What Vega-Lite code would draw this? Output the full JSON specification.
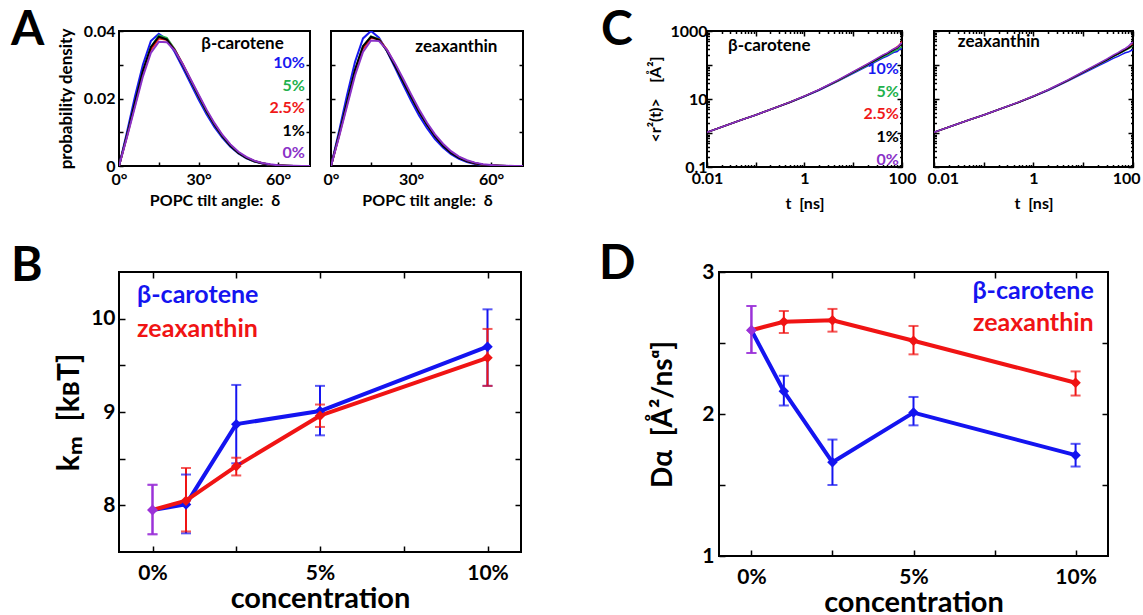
{
"$schema": "https://vega.github.io/schema/vega-lite/v6.json",
"padding": {"left": 10, "top": 6, "right": 0, "bottom": 0},
"datasets": {
"tiltB": [
{"c":"10%","a":0,"d":0},{"c":"10%","a":3,"d":0.0100},{"c":"10%","a":6,"d":0.0205},{"c":"10%","a":9,"d":0.0300},{"c":"10%","a":12,"d":0.0370},{"c":"10%","a":15,"d":0.0392},{"c":"10%","a":18,"d":0.0375},{"c":"10%","a":21,"d":0.0338},{"c":"10%","a":24,"d":0.0292},{"c":"10%","a":27,"d":0.0244},{"c":"10%","a":30,"d":0.0197},{"c":"10%","a":33,"d":0.0153},{"c":"10%","a":36,"d":0.0115},{"c":"10%","a":39,"d":0.0083},{"c":"10%","a":42,"d":0.0057},{"c":"10%","a":45,"d":0.0037},{"c":"10%","a":48,"d":0.0023},{"c":"10%","a":51,"d":0.0013},{"c":"10%","a":54,"d":0.0007},{"c":"10%","a":57,"d":0.0003},{"c":"10%","a":60,"d":0.00015},{"c":"10%","a":63,"d":0.0001},{"c":"10%","a":66,"d":0},{"c":"10%","a":69,"d":0},{"c":"10%","a":72,"d":0},
{"c":"5%","a":0,"d":0},{"c":"5%","a":3,"d":0.0090},{"c":"5%","a":6,"d":0.0185},{"c":"5%","a":9,"d":0.0280},{"c":"5%","a":12,"d":0.0352},{"c":"5%","a":15,"d":0.0387},{"c":"5%","a":18,"d":0.0380},{"c":"5%","a":21,"d":0.0346},{"c":"5%","a":24,"d":0.0301},{"c":"5%","a":27,"d":0.0253},{"c":"5%","a":30,"d":0.0206},{"c":"5%","a":33,"d":0.0161},{"c":"5%","a":36,"d":0.0122},{"c":"5%","a":39,"d":0.0088},{"c":"5%","a":42,"d":0.0060},{"c":"5%","a":45,"d":0.0039},{"c":"5%","a":48,"d":0.0024},{"c":"5%","a":51,"d":0.0014},{"c":"5%","a":54,"d":0.0008},{"c":"5%","a":57,"d":0.0004},{"c":"5%","a":60,"d":0.0002},{"c":"5%","a":63,"d":0.0001},{"c":"5%","a":66,"d":0},{"c":"5%","a":69,"d":0},{"c":"5%","a":72,"d":0},
{"c":"2.5%","a":0,"d":0},{"c":"2.5%","a":3,"d":0.0088},{"c":"2.5%","a":6,"d":0.0180},{"c":"2.5%","a":9,"d":0.0273},{"c":"2.5%","a":12,"d":0.0345},{"c":"2.5%","a":15,"d":0.0378},{"c":"2.5%","a":18,"d":0.0374},{"c":"2.5%","a":21,"d":0.0344},{"c":"2.5%","a":24,"d":0.0302},{"c":"2.5%","a":27,"d":0.0256},{"c":"2.5%","a":30,"d":0.0209},{"c":"2.5%","a":33,"d":0.0164},{"c":"2.5%","a":36,"d":0.0124},{"c":"2.5%","a":39,"d":0.0090},{"c":"2.5%","a":42,"d":0.0062},{"c":"2.5%","a":45,"d":0.0040},{"c":"2.5%","a":48,"d":0.0025},{"c":"2.5%","a":51,"d":0.0015},{"c":"2.5%","a":54,"d":0.0008},{"c":"2.5%","a":57,"d":0.0004},{"c":"2.5%","a":60,"d":0.0002},{"c":"2.5%","a":63,"d":0.0001},{"c":"2.5%","a":66,"d":0},{"c":"2.5%","a":69,"d":0},{"c":"2.5%","a":72,"d":0},
{"c":"1%","a":0,"d":0},{"c":"1%","a":3,"d":0.0092},{"c":"1%","a":6,"d":0.0188},{"c":"1%","a":9,"d":0.0282},{"c":"1%","a":12,"d":0.0352},{"c":"1%","a":15,"d":0.0383},{"c":"1%","a":18,"d":0.0375},{"c":"1%","a":21,"d":0.0343},{"c":"1%","a":24,"d":0.0299},{"c":"1%","a":27,"d":0.0253},{"c":"1%","a":30,"d":0.0207},{"c":"1%","a":33,"d":0.0162},{"c":"1%","a":36,"d":0.0122},{"c":"1%","a":39,"d":0.0088},{"c":"1%","a":42,"d":0.0060},{"c":"1%","a":45,"d":0.0039},{"c":"1%","a":48,"d":0.0024},{"c":"1%","a":51,"d":0.0014},{"c":"1%","a":54,"d":0.0008},{"c":"1%","a":57,"d":0.0004},{"c":"1%","a":60,"d":0.0002},{"c":"1%","a":63,"d":0.0001},{"c":"1%","a":66,"d":0},{"c":"1%","a":69,"d":0},{"c":"1%","a":72,"d":0},
{"c":"0%","a":0,"d":0},{"c":"0%","a":3,"d":0.0085},{"c":"0%","a":6,"d":0.0175},{"c":"0%","a":9,"d":0.0265},{"c":"0%","a":12,"d":0.0335},{"c":"0%","a":15,"d":0.0368},{"c":"0%","a":18,"d":0.0367},{"c":"0%","a":21,"d":0.0342},{"c":"0%","a":24,"d":0.0302},{"c":"0%","a":27,"d":0.0257},{"c":"0%","a":30,"d":0.0212},{"c":"0%","a":33,"d":0.0167},{"c":"0%","a":36,"d":0.0127},{"c":"0%","a":39,"d":0.0092},{"c":"0%","a":42,"d":0.0064},{"c":"0%","a":45,"d":0.0042},{"c":"0%","a":48,"d":0.0027},{"c":"0%","a":51,"d":0.0016},{"c":"0%","a":54,"d":0.0009},{"c":"0%","a":57,"d":0.0005},{"c":"0%","a":60,"d":0.0002},{"c":"0%","a":63,"d":0.0001},{"c":"0%","a":66,"d":0.00005},{"c":"0%","a":69,"d":0},{"c":"0%","a":72,"d":0}
],
"tiltZ": [
{"c":"10%","a":0,"d":0},{"c":"10%","a":3,"d":0.0102},{"c":"10%","a":6,"d":0.0210},{"c":"10%","a":9,"d":0.0308},{"c":"10%","a":12,"d":0.0378},{"c":"10%","a":15,"d":0.0400},{"c":"10%","a":18,"d":0.0380},{"c":"10%","a":21,"d":0.0340},{"c":"10%","a":24,"d":0.0292},{"c":"10%","a":27,"d":0.0242},{"c":"10%","a":30,"d":0.0194},{"c":"10%","a":33,"d":0.0150},{"c":"10%","a":36,"d":0.0112},{"c":"10%","a":39,"d":0.0080},{"c":"10%","a":42,"d":0.0055},{"c":"10%","a":45,"d":0.0035},{"c":"10%","a":48,"d":0.0021},{"c":"10%","a":51,"d":0.0012},{"c":"10%","a":54,"d":0.0006},{"c":"10%","a":57,"d":0.0003},{"c":"10%","a":60,"d":0.00015},{"c":"10%","a":63,"d":0.0001},{"c":"10%","a":66,"d":0},{"c":"10%","a":69,"d":0},{"c":"10%","a":72,"d":0},
{"c":"5%","a":0,"d":0},{"c":"5%","a":3,"d":0.0092},{"c":"5%","a":6,"d":0.0188},{"c":"5%","a":9,"d":0.0283},{"c":"5%","a":12,"d":0.0355},{"c":"5%","a":15,"d":0.0384},{"c":"5%","a":18,"d":0.0376},{"c":"5%","a":21,"d":0.0343},{"c":"5%","a":24,"d":0.0299},{"c":"5%","a":27,"d":0.0252},{"c":"5%","a":30,"d":0.0206},{"c":"5%","a":33,"d":0.0162},{"c":"5%","a":36,"d":0.0123},{"c":"5%","a":39,"d":0.0089},{"c":"5%","a":42,"d":0.0061},{"c":"5%","a":45,"d":0.0040},{"c":"5%","a":48,"d":0.0025},{"c":"5%","a":51,"d":0.0015},{"c":"5%","a":54,"d":0.0008},{"c":"5%","a":57,"d":0.0004},{"c":"5%","a":60,"d":0.0002},{"c":"5%","a":63,"d":0.0001},{"c":"5%","a":66,"d":0},{"c":"5%","a":69,"d":0},{"c":"5%","a":72,"d":0},
{"c":"2.5%","a":0,"d":0},{"c":"2.5%","a":3,"d":0.0089},{"c":"2.5%","a":6,"d":0.0183},{"c":"2.5%","a":9,"d":0.0276},{"c":"2.5%","a":12,"d":0.0348},{"c":"2.5%","a":15,"d":0.0380},{"c":"2.5%","a":18,"d":0.0375},{"c":"2.5%","a":21,"d":0.0344},{"c":"2.5%","a":24,"d":0.0301},{"c":"2.5%","a":27,"d":0.0255},{"c":"2.5%","a":30,"d":0.0209},{"c":"2.5%","a":33,"d":0.0164},{"c":"2.5%","a":36,"d":0.0124},{"c":"2.5%","a":39,"d":0.0090},{"c":"2.5%","a":42,"d":0.0062},{"c":"2.5%","a":45,"d":0.0041},{"c":"2.5%","a":48,"d":0.0026},{"c":"2.5%","a":51,"d":0.0015},{"c":"2.5%","a":54,"d":0.0008},{"c":"2.5%","a":57,"d":0.0004},{"c":"2.5%","a":60,"d":0.0002},{"c":"2.5%","a":63,"d":0.0001},{"c":"2.5%","a":66,"d":0},{"c":"2.5%","a":69,"d":0},{"c":"2.5%","a":72,"d":0},
{"c":"1%","a":0,"d":0},{"c":"1%","a":3,"d":0.0093},{"c":"1%","a":6,"d":0.0190},{"c":"1%","a":9,"d":0.0285},{"c":"1%","a":12,"d":0.0355},{"c":"1%","a":15,"d":0.0383},{"c":"1%","a":18,"d":0.0374},{"c":"1%","a":21,"d":0.0341},{"c":"1%","a":24,"d":0.0297},{"c":"1%","a":27,"d":0.0251},{"c":"1%","a":30,"d":0.0205},{"c":"1%","a":33,"d":0.0161},{"c":"1%","a":36,"d":0.0122},{"c":"1%","a":39,"d":0.0088},{"c":"1%","a":42,"d":0.0060},{"c":"1%","a":45,"d":0.0039},{"c":"1%","a":48,"d":0.0024},{"c":"1%","a":51,"d":0.0014},{"c":"1%","a":54,"d":0.0008},{"c":"1%","a":57,"d":0.0004},{"c":"1%","a":60,"d":0.0002},{"c":"1%","a":63,"d":0.0001},{"c":"1%","a":66,"d":0},{"c":"1%","a":69,"d":0},{"c":"1%","a":72,"d":0},
{"c":"0%","a":0,"d":0},{"c":"0%","a":3,"d":0.0086},{"c":"0%","a":6,"d":0.0177},{"c":"0%","a":9,"d":0.0268},{"c":"0%","a":12,"d":0.0338},{"c":"0%","a":15,"d":0.0372},{"c":"0%","a":18,"d":0.0370},{"c":"0%","a":21,"d":0.0344},{"c":"0%","a":24,"d":0.0304},{"c":"0%","a":27,"d":0.0259},{"c":"0%","a":30,"d":0.0213},{"c":"0%","a":33,"d":0.0168},{"c":"0%","a":36,"d":0.0128},{"c":"0%","a":39,"d":0.0094},{"c":"0%","a":42,"d":0.0066},{"c":"0%","a":45,"d":0.0044},{"c":"0%","a":48,"d":0.0028},{"c":"0%","a":51,"d":0.0017},{"c":"0%","a":54,"d":0.0010},{"c":"0%","a":57,"d":0.0005},{"c":"0%","a":60,"d":0.0003},{"c":"0%","a":63,"d":0.0001},{"c":"0%","a":66,"d":0.00005},{"c":"0%","a":69,"d":0},{"c":"0%","a":72,"d":0}
],
"msdB": [
{"c":"10%","t":0.01,"m":1.05},{"c":"10%","t":0.02,"m":1.5},{"c":"10%","t":0.05,"m":2.4},{"c":"10%","t":0.1,"m":3.4},{"c":"10%","t":0.2,"m":4.9},{"c":"10%","t":0.5,"m":7.9},{"c":"10%","t":1,"m":11.8},{"c":"10%","t":2,"m":18},{"c":"10%","t":5,"m":34},{"c":"10%","t":10,"m":57},{"c":"10%","t":20,"m":95},{"c":"10%","t":30,"m":128},{"c":"10%","t":40,"m":160},{"c":"10%","t":50,"m":182},{"c":"10%","t":60,"m":212},{"c":"10%","t":70,"m":238},{"c":"10%","t":80,"m":250},{"c":"10%","t":90,"m":290},{"c":"10%","t":100,"m":300},
{"c":"5%","t":0.01,"m":1.05},{"c":"5%","t":0.02,"m":1.5},{"c":"5%","t":0.05,"m":2.4},{"c":"5%","t":0.1,"m":3.4},{"c":"5%","t":0.2,"m":4.9},{"c":"5%","t":0.5,"m":8.0},{"c":"5%","t":1,"m":12},{"c":"5%","t":2,"m":18.5},{"c":"5%","t":5,"m":35},{"c":"5%","t":10,"m":60},{"c":"5%","t":20,"m":100},{"c":"5%","t":30,"m":136},{"c":"5%","t":40,"m":170},{"c":"5%","t":50,"m":198},{"c":"5%","t":60,"m":225},{"c":"5%","t":70,"m":262},{"c":"5%","t":80,"m":280},{"c":"5%","t":90,"m":320},{"c":"5%","t":100,"m":340},
{"c":"2.5%","t":0.01,"m":1.05},{"c":"2.5%","t":0.02,"m":1.5},{"c":"2.5%","t":0.05,"m":2.4},{"c":"2.5%","t":0.1,"m":3.4},{"c":"2.5%","t":0.2,"m":4.9},{"c":"2.5%","t":0.5,"m":8.0},{"c":"2.5%","t":1,"m":12.1},{"c":"2.5%","t":2,"m":18.8},{"c":"2.5%","t":5,"m":36},{"c":"2.5%","t":10,"m":63},{"c":"2.5%","t":20,"m":107},{"c":"2.5%","t":30,"m":148},{"c":"2.5%","t":40,"m":190},{"c":"2.5%","t":50,"m":222},{"c":"2.5%","t":60,"m":265},{"c":"2.5%","t":70,"m":300},{"c":"2.5%","t":80,"m":345},{"c":"2.5%","t":90,"m":400},{"c":"2.5%","t":100,"m":490},
{"c":"1%","t":0.01,"m":1.05},{"c":"1%","t":0.02,"m":1.5},{"c":"1%","t":0.05,"m":2.4},{"c":"1%","t":0.1,"m":3.4},{"c":"1%","t":0.2,"m":4.9},{"c":"1%","t":0.5,"m":8.0},{"c":"1%","t":1,"m":12.1},{"c":"1%","t":2,"m":18.7},{"c":"1%","t":5,"m":36},{"c":"1%","t":10,"m":62},{"c":"1%","t":20,"m":104},{"c":"1%","t":30,"m":144},{"c":"1%","t":40,"m":182},{"c":"1%","t":50,"m":215},{"c":"1%","t":60,"m":250},{"c":"1%","t":70,"m":288},{"c":"1%","t":80,"m":315},{"c":"1%","t":90,"m":370},{"c":"1%","t":100,"m":410},
{"c":"0%","t":0.01,"m":1.05},{"c":"0%","t":0.02,"m":1.5},{"c":"0%","t":0.05,"m":2.4},{"c":"0%","t":0.1,"m":3.4},{"c":"0%","t":0.2,"m":4.9},{"c":"0%","t":0.5,"m":8.1},{"c":"0%","t":1,"m":12.2},{"c":"0%","t":2,"m":19},{"c":"0%","t":5,"m":37},{"c":"0%","t":10,"m":64},{"c":"0%","t":20,"m":110},{"c":"0%","t":30,"m":154},{"c":"0%","t":40,"m":195},{"c":"0%","t":50,"m":228},{"c":"0%","t":60,"m":270},{"c":"0%","t":70,"m":305},{"c":"0%","t":80,"m":330},{"c":"0%","t":90,"m":390},{"c":"0%","t":100,"m":450}
],
"msdZ": [
{"c":"10%","t":0.01,"m":1.05},{"c":"10%","t":0.02,"m":1.5},{"c":"10%","t":0.05,"m":2.4},{"c":"10%","t":0.1,"m":3.4},{"c":"10%","t":0.2,"m":4.9},{"c":"10%","t":0.5,"m":7.9},{"c":"10%","t":1,"m":11.8},{"c":"10%","t":2,"m":18},{"c":"10%","t":5,"m":34},{"c":"10%","t":10,"m":57},{"c":"10%","t":20,"m":94},{"c":"10%","t":30,"m":126},{"c":"10%","t":40,"m":156},{"c":"10%","t":50,"m":180},{"c":"10%","t":60,"m":205},{"c":"10%","t":70,"m":228},{"c":"10%","t":80,"m":240},{"c":"10%","t":90,"m":262},{"c":"10%","t":100,"m":280},
{"c":"5%","t":0.01,"m":1.05},{"c":"5%","t":0.02,"m":1.5},{"c":"5%","t":0.05,"m":2.4},{"c":"5%","t":0.1,"m":3.4},{"c":"5%","t":0.2,"m":4.9},{"c":"5%","t":0.5,"m":8.0},{"c":"5%","t":1,"m":12},{"c":"5%","t":2,"m":18.6},{"c":"5%","t":5,"m":35.5},{"c":"5%","t":10,"m":61},{"c":"5%","t":20,"m":102},{"c":"5%","t":30,"m":140},{"c":"5%","t":40,"m":176},{"c":"5%","t":50,"m":205},{"c":"5%","t":60,"m":240},{"c":"5%","t":70,"m":270},{"c":"5%","t":80,"m":300},{"c":"5%","t":90,"m":330},{"c":"5%","t":100,"m":370},
{"c":"2.5%","t":0.01,"m":1.05},{"c":"2.5%","t":0.02,"m":1.5},{"c":"2.5%","t":0.05,"m":2.4},{"c":"2.5%","t":0.1,"m":3.4},{"c":"2.5%","t":0.2,"m":4.9},{"c":"2.5%","t":0.5,"m":8.0},{"c":"2.5%","t":1,"m":12.1},{"c":"2.5%","t":2,"m":18.8},{"c":"2.5%","t":5,"m":36},{"c":"2.5%","t":10,"m":62},{"c":"2.5%","t":20,"m":105},{"c":"2.5%","t":30,"m":146},{"c":"2.5%","t":40,"m":185},{"c":"2.5%","t":50,"m":218},{"c":"2.5%","t":60,"m":252},{"c":"2.5%","t":70,"m":285},{"c":"2.5%","t":80,"m":320},{"c":"2.5%","t":90,"m":360},{"c":"2.5%","t":100,"m":410},
{"c":"1%","t":0.01,"m":1.05},{"c":"1%","t":0.02,"m":1.5},{"c":"1%","t":0.05,"m":2.4},{"c":"1%","t":0.1,"m":3.4},{"c":"1%","t":0.2,"m":4.9},{"c":"1%","t":0.5,"m":8.0},{"c":"1%","t":1,"m":12.1},{"c":"1%","t":2,"m":18.7},{"c":"1%","t":5,"m":36},{"c":"1%","t":10,"m":62},{"c":"1%","t":20,"m":104},{"c":"1%","t":30,"m":143},{"c":"1%","t":40,"m":180},{"c":"1%","t":50,"m":214},{"c":"1%","t":60,"m":245},{"c":"1%","t":70,"m":280},{"c":"1%","t":80,"m":310},{"c":"1%","t":90,"m":345},{"c":"1%","t":100,"m":390},
{"c":"0%","t":0.01,"m":1.05},{"c":"0%","t":0.02,"m":1.5},{"c":"0%","t":0.05,"m":2.4},{"c":"0%","t":0.1,"m":3.4},{"c":"0%","t":0.2,"m":4.9},{"c":"0%","t":0.5,"m":8.1},{"c":"0%","t":1,"m":12.2},{"c":"0%","t":2,"m":19},{"c":"0%","t":5,"m":37},{"c":"0%","t":10,"m":64},{"c":"0%","t":20,"m":110},{"c":"0%","t":30,"m":152},{"c":"0%","t":40,"m":195},{"c":"0%","t":50,"m":232},{"c":"0%","t":60,"m":272},{"c":"0%","t":70,"m":310},{"c":"0%","t":80,"m":350},{"c":"0%","t":90,"m":420},{"c":"0%","t":100,"m":470}
],
"km": [
{"s":"β-carotene","x":0,"y":7.95,"lo":7.69,"hi":8.22},{"s":"β-carotene","x":1,"y":8.01,"lo":7.70,"hi":8.33},{"s":"β-carotene","x":2.5,"y":8.87,"lo":8.45,"hi":9.29},{"s":"β-carotene","x":5,"y":9.01,"lo":8.75,"hi":9.28},{"s":"β-carotene","x":10,"y":9.70,"lo":9.28,"hi":10.10},
{"s":"zeaxanthin","x":0,"y":7.95,"lo":7.69,"hi":8.22},{"s":"zeaxanthin","x":1,"y":8.05,"lo":7.72,"hi":8.40},{"s":"zeaxanthin","x":2.5,"y":8.42,"lo":8.32,"hi":8.51},{"s":"zeaxanthin","x":5,"y":8.96,"lo":8.84,"hi":9.08},{"s":"zeaxanthin","x":10,"y":9.58,"lo":9.28,"hi":9.89}
],
"dal": [
{"s":"β-carotene","x":0,"y":2.59,"lo":2.43,"hi":2.76},{"s":"β-carotene","x":1,"y":2.16,"lo":2.06,"hi":2.27},{"s":"β-carotene","x":2.5,"y":1.66,"lo":1.50,"hi":1.82},{"s":"β-carotene","x":5,"y":2.01,"lo":1.92,"hi":2.12},{"s":"β-carotene","x":10,"y":1.71,"lo":1.63,"hi":1.79},
{"s":"zeaxanthin","x":0,"y":2.59,"lo":2.43,"hi":2.76},{"s":"zeaxanthin","x":1,"y":2.65,"lo":2.57,"hi":2.725},{"s":"zeaxanthin","x":2.5,"y":2.66,"lo":2.58,"hi":2.74},{"s":"zeaxanthin","x":5,"y":2.516,"lo":2.42,"hi":2.62},{"s":"zeaxanthin","x":10,"y":2.22,"lo":2.13,"hi":2.30}
]
},
"vconcat": [
{"hconcat": [
 {"hconcat": [
  {"width": 191, "height": 135,
   "title": {"text": "A", "anchor": "start", "frame": "group", "orient": "top", "offset": -48, "dx": -108, "dy": 22, "baseline": "alphabetic", "fontSize": 48},
   "layer": [
    {"data": {"name": "tiltB"}, "mark": {"type": "line", "strokeWidth": 2, "clip": true},
     "encoding": {
      "x": {"field": "a", "type": "quantitative", "scale": {"domain": [0, 72], "nice": false, "zero": false},
            "axis": {"orient": "bottom", "values": [0, 15, 30, 45, 60], "labelExpr": "datum.value % 30 == 0 ? datum.value + '°' : ''", "labelFontSize": 16, "labelPadding": 9, "tickSize": -4, "title": "POPC tilt angle:\u00a0 δ", "titleFontSize": 16, "titlePadding": 5}},
      "y": {"field": "d", "type": "quantitative", "scale": {"domain": [0, 0.04], "nice": false},
            "axis": {"orient": "left", "values": [0, 0.01, 0.02, 0.03, 0.04], "labelExpr": "datum.value == 0 ? '0' : (datum.value == 0.02 || datum.value == 0.04) ? format(datum.value, '.2f') : ''", "labelFontSize": 16, "labelPadding": 8, "tickSize": -4, "title": "probability density", "titleFontSize": 17, "titlePadding": 8}},
      "color": {"field": "c", "type": "nominal", "scale": {"domain": ["10%", "5%", "2.5%", "1%", "0%", "β-carotene", "zeaxanthin"], "range": ["#1818f0", "#22b14c", "#f01818", "#000000", "#8a32c8", "#1414f0", "#f01414"]}, "legend": null}
     }},
    {"data": {"values": [{"t": "β-carotene"}]}, "mark": {"type": "text", "align": "left", "baseline": "middle", "fontSize": 17, "fontWeight": "bold", "color": "#000"},
     "encoding": {
      "x": {"datum": 31, "scale": {"domain": [0, 72], "nice": false, "zero": false}, "axis": null},
      "y": {"datum": 0.0361, "scale": {"domain": [0, 0.04], "nice": false}, "axis": {"orient": "right", "values": [0.01, 0.02, 0.03], "labels": false, "tickSize": -4, "title": null}},
      "text": {"field": "t"}}},
    {"data": {"values": [{"c": "10%"}, {"c": "5%"}, {"c": "2.5%"}, {"c": "1%"}, {"c": "0%"}]}, "mark": {"type": "text", "align": "right", "baseline": "middle", "fontSize": 16, "fontWeight": "bold"},
     "encoding": {
      "x": {"datum": 70.1, "scale": {"domain": [0, 72], "nice": false, "zero": false}, "axis": null},
      "y": {"field": "c", "type": "ordinal", "scale": {"type": "point", "domain": ["10%", "5%", "2.5%", "1%", "0%"], "padding": 1.14, "align": 0.714}, "axis": null},
      "text": {"field": "c"},
      "color": {"field": "c", "type": "nominal", "scale": {"domain": ["10%", "5%", "2.5%", "1%", "0%", "β-carotene", "zeaxanthin"], "range": ["#1818f0", "#22b14c", "#f01818", "#000000", "#8a32c8", "#1414f0", "#f01414"]}, "legend": null}}}
   ],
   "resolve": {"scale": {"y": "independent"}, "axis": {"x": "independent", "y": "independent"}}
  },
  {"width": 192, "height": 135,
   "layer": [
    {"data": {"name": "tiltZ"}, "mark": {"type": "line", "strokeWidth": 2, "clip": true},
     "encoding": {
      "x": {"field": "a", "type": "quantitative", "scale": {"domain": [0, 72], "nice": false, "zero": false},
            "axis": {"orient": "bottom", "values": [0, 15, 30, 45, 60], "labelExpr": "datum.value % 30 == 0 ? datum.value + '°' : ''", "labelFontSize": 16, "labelPadding": 9, "tickSize": -4, "title": "POPC tilt angle:\u00a0 δ", "titleFontSize": 16, "titlePadding": 5}},
      "y": {"field": "d", "type": "quantitative", "scale": {"domain": [0, 0.04], "nice": false},
            "axis": {"orient": "left", "values": [0.01, 0.02, 0.03], "labels": false, "tickSize": -4, "title": null}},
      "color": {"field": "c", "type": "nominal", "scale": {"domain": ["10%", "5%", "2.5%", "1%", "0%", "β-carotene", "zeaxanthin"], "range": ["#1818f0", "#22b14c", "#f01818", "#000000", "#8a32c8", "#1414f0", "#f01414"]}, "legend": null}
     }},
    {"data": {"values": [{"t": "zeaxanthin"}]}, "mark": {"type": "text", "align": "left", "baseline": "middle", "fontSize": 17, "fontWeight": "bold", "color": "#000"},
     "encoding": {
      "x": {"datum": 31.6, "scale": {"domain": [0, 72], "nice": false, "zero": false}, "axis": null},
      "y": {"datum": 0.0353, "scale": {"domain": [0, 0.04], "nice": false}, "axis": {"orient": "right", "values": [0.01, 0.02, 0.03], "labels": false, "tickSize": -4, "title": null}},
      "text": {"field": "t"}}}
   ],
   "resolve": {"axis": {"x": "independent", "y": "independent"}}
  }
 ], "spacing": 21, "bounds": "flush"},
 {"hconcat": [
  {"width": 195, "height": 136,
   "title": {"text": "C", "anchor": "start", "frame": "group", "orient": "top", "offset": -48, "dx": -106, "dy": 22, "baseline": "alphabetic", "fontSize": 48},
   "layer": [
    {"data": {"name": "msdB"}, "mark": {"type": "line", "strokeWidth": 1.5, "clip": true},
     "encoding": {
      "x": {"field": "t", "type": "quantitative", "scale": {"type": "log", "domain": [0.01, 100], "nice": false},
            "axis": {"orient": "bottom", "values": [0.01,0.02,0.03,0.04,0.05,0.06,0.07,0.08,0.09,0.1,0.2,0.3,0.4,0.5,0.6,0.7,0.8,0.9,1,2,3,4,5,6,7,8,9,10,20,30,40,50,60,70,80,90,100], "labelExpr": "datum.value == 0.01 ? '0.01' : datum.value == 1 ? '1' : datum.value == 100 ? '100' : ''", "labelFontSize": 16, "labelPadding": 8, "tickSize": {"condition": {"test": "indexof([0.01,0.1,1,10,100], datum.value) >= 0", "value": -5}, "value": -2.5}, "title": "t\u00a0 [ns]", "titleFontSize": 16, "titlePadding": 7}},
      "y": {"field": "m", "type": "quantitative", "scale": {"type": "log", "domain": [0.1, 1000], "nice": false},
            "axis": {"orient": "left", "values": [0.1,0.2,0.3,0.4,0.5,0.6,0.7,0.8,0.9,1,2,3,4,5,6,7,8,9,10,20,30,40,50,60,70,80,90,100,200,300,400,500,600,700,800,900,1000], "labelExpr": "datum.value == 0.1 ? '0.1' : datum.value == 10 ? '10' : datum.value == 1000 ? '1000' : ''", "labelFontSize": 16, "labelPadding": 5, "tickSize": {"condition": {"test": "indexof([0.1,1,10,100,1000], datum.value) >= 0", "value": -5}, "value": -2.5}, "title": "<r²(t)>\u00a0\u00a0\u00a0 [Å²]", "titleFontSize": 16, "titlePadding": 6}},
      "color": {"field": "c", "type": "nominal", "scale": {"domain": ["10%", "5%", "2.5%", "1%", "0%", "β-carotene", "zeaxanthin"], "range": ["#1818f0", "#22b14c", "#f01818", "#000000", "#8a32c8", "#1414f0", "#f01414"]}, "legend": null}
     }},
    {"data": {"values": [{"t": "β-carotene"}]}, "mark": {"type": "text", "align": "left", "baseline": "middle", "fontSize": 17, "fontWeight": "bold", "color": "#000"},
     "encoding": {
      "x": {"datum": 0.027, "scale": {"type": "log", "domain": [0.01, 100], "nice": false}, "axis": {"orient": "top", "values": [0.01,0.02,0.03,0.04,0.05,0.06,0.07,0.08,0.09,0.1,0.2,0.3,0.4,0.5,0.6,0.7,0.8,0.9,1,2,3,4,5,6,7,8,9,10,20,30,40,50,60,70,80,90,100], "labels": false, "tickSize": {"condition": {"test": "indexof([0.01,0.1,1,10,100], datum.value) >= 0", "value": -5}, "value": -2.5}, "title": null}},
      "y": {"datum": 362, "scale": {"type": "log", "domain": [0.1, 1000], "nice": false}, "axis": {"orient": "right", "values": [0.1,0.2,0.3,0.4,0.5,0.6,0.7,0.8,0.9,1,2,3,4,5,6,7,8,9,10,20,30,40,50,60,70,80,90,100,200,300,400,500,600,700,800,900,1000], "labels": false, "tickSize": {"condition": {"test": "indexof([0.1,1,10,100,1000], datum.value) >= 0", "value": -5}, "value": -2.5}, "title": null}},
      "text": {"field": "t"}}},
    {"data": {"values": [{"c": "10%"}, {"c": "5%"}, {"c": "2.5%"}, {"c": "1%"}, {"c": "0%"}]}, "mark": {"type": "text", "align": "right", "baseline": "middle", "fontSize": 16, "fontWeight": "bold"},
     "encoding": {
      "x": {"datum": 86.7, "scale": {"type": "log", "domain": [0.01, 100], "nice": false}, "axis": null},
      "y": {"field": "c", "type": "ordinal", "scale": {"type": "point", "domain": ["10%", "5%", "2.5%", "1%", "0%"], "padding": 1.126, "align": 0.837}, "axis": null},
      "text": {"field": "c"},
      "color": {"field": "c", "type": "nominal", "scale": {"domain": ["10%", "5%", "2.5%", "1%", "0%", "β-carotene", "zeaxanthin"], "range": ["#1818f0", "#22b14c", "#f01818", "#000000", "#8a32c8", "#1414f0", "#f01414"]}, "legend": null}}}
   ],
   "resolve": {"scale": {"y": "independent"}, "axis": {"x": "independent", "y": "independent"}}
  },
  {"width": 199, "height": 136,
   "layer": [
    {"data": {"name": "msdZ"}, "mark": {"type": "line", "strokeWidth": 1.5, "clip": true},
     "encoding": {
      "x": {"field": "t", "type": "quantitative", "scale": {"type": "log", "domain": [0.01, 100], "nice": false},
            "axis": {"orient": "bottom", "values": [0.01,0.02,0.03,0.04,0.05,0.06,0.07,0.08,0.09,0.1,0.2,0.3,0.4,0.5,0.6,0.7,0.8,0.9,1,2,3,4,5,6,7,8,9,10,20,30,40,50,60,70,80,90,100], "labelExpr": "datum.value == 0.01 ? '0.01' : datum.value == 1 ? '1' : datum.value == 100 ? '100' : ''", "labelFontSize": 16, "labelPadding": 8, "labelFlush": true, "labelFlushOffset": 7, "tickSize": {"condition": {"test": "indexof([0.01,0.1,1,10,100], datum.value) >= 0", "value": -5}, "value": -2.5}, "title": "t\u00a0 [ns]", "titleFontSize": 16, "titlePadding": 7}},
      "y": {"field": "m", "type": "quantitative", "scale": {"type": "log", "domain": [0.1, 1000], "nice": false},
            "axis": {"orient": "left", "values": [0.1,0.2,0.3,0.4,0.5,0.6,0.7,0.8,0.9,1,2,3,4,5,6,7,8,9,10,20,30,40,50,60,70,80,90,100,200,300,400,500,600,700,800,900,1000], "labels": false, "tickSize": {"condition": {"test": "indexof([0.1,1,10,100,1000], datum.value) >= 0", "value": -5}, "value": -2.5}, "title": null}},
      "color": {"field": "c", "type": "nominal", "scale": {"domain": ["10%", "5%", "2.5%", "1%", "0%", "β-carotene", "zeaxanthin"], "range": ["#1818f0", "#22b14c", "#f01818", "#000000", "#8a32c8", "#1414f0", "#f01414"]}, "legend": null}
     }},
    {"data": {"values": [{"t": "zeaxanthin"}]}, "mark": {"type": "text", "align": "left", "baseline": "middle", "fontSize": 17, "fontWeight": "bold", "color": "#000"},
     "encoding": {
      "x": {"datum": 0.03, "scale": {"type": "log", "domain": [0.01, 100], "nice": false}, "axis": {"orient": "top", "values": [0.01,0.02,0.03,0.04,0.05,0.06,0.07,0.08,0.09,0.1,0.2,0.3,0.4,0.5,0.6,0.7,0.8,0.9,1,2,3,4,5,6,7,8,9,10,20,30,40,50,60,70,80,90,100], "labels": false, "tickSize": {"condition": {"test": "indexof([0.01,0.1,1,10,100], datum.value) >= 0", "value": -5}, "value": -2.5}, "title": null}},
      "y": {"datum": 474, "scale": {"type": "log", "domain": [0.1, 1000], "nice": false}, "axis": {"orient": "right", "values": [0.1,0.2,0.3,0.4,0.5,0.6,0.7,0.8,0.9,1,2,3,4,5,6,7,8,9,10,20,30,40,50,60,70,80,90,100,200,300,400,500,600,700,800,900,1000], "labels": false, "tickSize": {"condition": {"test": "indexof([0.1,1,10,100,1000], datum.value) >= 0", "value": -5}, "value": -2.5}, "title": null}},
      "text": {"field": "t"}}}
   ],
   "resolve": {"axis": {"x": "independent", "y": "independent"}}
  }
 ], "spacing": 32, "bounds": "flush"}
], "spacing": 588, "bounds": "flush"},
{"hconcat": [
 {"width": 402, "height": 280,
  "title": {"text": "B", "anchor": "start", "frame": "group", "orient": "top", "offset": -47, "dx": -108, "dy": 11, "baseline": "alphabetic", "fontSize": 48},
  "data": {"name": "km"},
  "layer": [
   {"mark": {"type": "line", "strokeWidth": 4, "strokeJoin": "round"},
    "encoding": {
     "x": {"field": "x", "type": "quantitative", "scale": {"domain": [-1, 11], "nice": false, "zero": false},
           "axis": {"orient": "bottom", "values": [0, 2.5, 5, 7.5, 10], "labelExpr": "datum.value % 5 == 0 ? format(datum.value, 'd') + '%' : ''", "labelFontSize": 21, "labelPadding": 16, "tickSize": -6, "title": "concentration", "titleFontSize": 29, "titlePadding": 1}},
     "y": {"field": "y", "type": "quantitative", "scale": {"domain": [7.5, 10.5], "nice": false, "zero": false},
           "axis": {"orient": "left", "values": [8, 8.5, 9, 9.5, 10], "labelExpr": "datum.value % 1 == 0 ? format(datum.value, 'd') : ''", "labelFontSize": 21, "labelPadding": 10, "tickSize": -6, "title": "kₘ\u00a0 [kʙT]", "titleFontSize": 30, "titlePadding": 6}},
     "color": {"field": "s", "type": "nominal", "scale": {"domain": ["10%", "5%", "2.5%", "1%", "0%", "β-carotene", "zeaxanthin"], "range": ["#1818f0", "#22b14c", "#f01818", "#000000", "#8a32c8", "#1414f0", "#f01414"]}, "legend": null}
    }},
   {"mark": {"type": "rule", "strokeWidth": 2},
    "encoding": {
     "x": {"field": "x", "type": "quantitative", "scale": {"domain": [-1, 11], "nice": false, "zero": false}, "axis": null},
     "y": {"field": "lo", "type": "quantitative", "scale": {"domain": [7.5, 10.5], "nice": false, "zero": false}, "axis": null},
     "y2": {"field": "hi"},
     "color": {"condition": {"test": "datum.x == 0", "value": "#9b32d8"}, "field": "s", "type": "nominal", "legend": null}}},
   {"mark": {"type": "tick", "orient": "horizontal", "size": 10, "thickness": 2},
    "encoding": {
     "x": {"field": "x", "type": "quantitative", "scale": {"domain": [-1, 11], "nice": false, "zero": false}, "axis": null},
     "y": {"field": "lo", "type": "quantitative", "scale": {"domain": [7.5, 10.5], "nice": false, "zero": false}, "axis": null},
     "color": {"condition": {"test": "datum.x == 0", "value": "#9b32d8"}, "field": "s", "type": "nominal", "legend": null}}},
   {"mark": {"type": "tick", "orient": "horizontal", "size": 10, "thickness": 2},
    "encoding": {
     "x": {"field": "x", "type": "quantitative", "scale": {"domain": [-1, 11], "nice": false, "zero": false}, "axis": null},
     "y": {"field": "hi", "type": "quantitative", "scale": {"domain": [7.5, 10.5], "nice": false, "zero": false}, "axis": null},
     "color": {"condition": {"test": "datum.x == 0", "value": "#9b32d8"}, "field": "s", "type": "nominal", "legend": null}}},
   {"mark": {"type": "point", "shape": "diamond", "filled": true, "size": 110, "opacity": 1},
    "encoding": {
     "x": {"field": "x", "type": "quantitative", "scale": {"domain": [-1, 11], "nice": false, "zero": false}, "axis": null},
     "y": {"field": "y", "type": "quantitative", "scale": {"domain": [7.5, 10.5], "nice": false, "zero": false}, "axis": null},
     "color": {"condition": {"test": "datum.x == 0", "value": "#9b32d8"}, "field": "s", "type": "nominal", "legend": null}}},
   {"data": {"values": [{"t": "β-carotene"}]}, "mark": {"type": "text", "align": "left", "baseline": "middle", "fontSize": 25, "fontWeight": "bold", "color": "#1414f0"},
    "encoding": {
     "x": {"datum": -0.46, "scale": {"domain": [-1, 11], "nice": false, "zero": false}, "axis": {"orient": "top", "values": [0, 2.5, 5, 7.5, 10], "labels": false, "tickSize": -6, "title": null}},
     "y": {"datum": 10.25, "scale": {"domain": [7.5, 10.5], "nice": false, "zero": false}, "axis": {"orient": "right", "values": [8, 8.5, 9, 9.5, 10], "labels": false, "tickSize": -6, "title": null}},
     "text": {"field": "t"}}},
   {"data": {"values": [{"t": "zeaxanthin"}]}, "mark": {"type": "text", "align": "left", "baseline": "middle", "fontSize": 25, "fontWeight": "bold", "color": "#f01414"},
    "encoding": {
     "x": {"datum": -0.46, "scale": {"domain": [-1, 11], "nice": false, "zero": false}, "axis": null},
     "y": {"datum": 9.89, "scale": {"domain": [7.5, 10.5], "nice": false, "zero": false}, "axis": null},
     "text": {"field": "t"}}}
  ],
  "resolve": {"axis": {"x": "independent", "y": "independent"}}
 },
 {"width": 389, "height": 284,
  "title": {"text": "D", "anchor": "start", "frame": "group", "orient": "top", "offset": -45, "dx": -120, "dy": 21, "baseline": "alphabetic", "fontSize": 48},
  "data": {"name": "dal"},
  "layer": [
   {"mark": {"type": "line", "strokeWidth": 4, "strokeJoin": "round"},
    "encoding": {
     "x": {"field": "x", "type": "quantitative", "scale": {"domain": [-1, 11], "nice": false, "zero": false},
           "axis": {"orient": "bottom", "values": [0, 2.5, 5, 7.5, 10], "labelExpr": "datum.value % 5 == 0 ? format(datum.value, 'd') + '%' : ''", "labelFontSize": 21, "labelPadding": 16, "tickSize": -6, "title": "concentration", "titleFontSize": 29, "titlePadding": 1}},
     "y": {"field": "y", "type": "quantitative", "scale": {"domain": [1, 3], "nice": false, "zero": false},
           "axis": {"orient": "left", "values": [1, 1.5, 2, 2.5, 3], "labelExpr": "datum.value % 1 == 0 ? format(datum.value, 'd') : ''", "labelFontSize": 21, "labelPadding": 11, "tickSize": -6, "title": "Dα\u00a0 [Å²/nsᵅ]", "titleFontSize": 28, "titlePadding": 24}},
     "color": {"field": "s", "type": "nominal", "scale": {"domain": ["10%", "5%", "2.5%", "1%", "0%", "β-carotene", "zeaxanthin"], "range": ["#1818f0", "#22b14c", "#f01818", "#000000", "#8a32c8", "#1414f0", "#f01414"]}, "legend": null}
    }},
   {"mark": {"type": "rule", "strokeWidth": 2},
    "encoding": {
     "x": {"field": "x", "type": "quantitative", "scale": {"domain": [-1, 11], "nice": false, "zero": false}, "axis": null},
     "y": {"field": "lo", "type": "quantitative", "scale": {"domain": [1, 3], "nice": false, "zero": false}, "axis": null},
     "y2": {"field": "hi"},
     "color": {"condition": {"test": "datum.x == 0", "value": "#9b32d8"}, "field": "s", "type": "nominal", "legend": null}}},
   {"mark": {"type": "tick", "orient": "horizontal", "size": 10, "thickness": 2},
    "encoding": {
     "x": {"field": "x", "type": "quantitative", "scale": {"domain": [-1, 11], "nice": false, "zero": false}, "axis": null},
     "y": {"field": "lo", "type": "quantitative", "scale": {"domain": [1, 3], "nice": false, "zero": false}, "axis": null},
     "color": {"condition": {"test": "datum.x == 0", "value": "#9b32d8"}, "field": "s", "type": "nominal", "legend": null}}},
   {"mark": {"type": "tick", "orient": "horizontal", "size": 10, "thickness": 2},
    "encoding": {
     "x": {"field": "x", "type": "quantitative", "scale": {"domain": [-1, 11], "nice": false, "zero": false}, "axis": null},
     "y": {"field": "hi", "type": "quantitative", "scale": {"domain": [1, 3], "nice": false, "zero": false}, "axis": null},
     "color": {"condition": {"test": "datum.x == 0", "value": "#9b32d8"}, "field": "s", "type": "nominal", "legend": null}}},
   {"mark": {"type": "point", "shape": "diamond", "filled": true, "size": 110, "opacity": 1},
    "encoding": {
     "x": {"field": "x", "type": "quantitative", "scale": {"domain": [-1, 11], "nice": false, "zero": false}, "axis": null},
     "y": {"field": "y", "type": "quantitative", "scale": {"domain": [1, 3], "nice": false, "zero": false}, "axis": null},
     "color": {"condition": {"test": "datum.x == 0", "value": "#9b32d8"}, "field": "s", "type": "nominal", "legend": null}}},
   {"data": {"values": [{"t": "β-carotene"}]}, "mark": {"type": "text", "align": "right", "baseline": "middle", "fontSize": 25, "fontWeight": "bold", "color": "#1414f0"},
    "encoding": {
     "x": {"datum": 10.56, "scale": {"domain": [-1, 11], "nice": false, "zero": false}, "axis": {"orient": "top", "values": [0, 2.5, 5, 7.5, 10], "labels": false, "tickSize": -6, "title": null}},
     "y": {"datum": 2.866, "scale": {"domain": [1, 3], "nice": false, "zero": false}, "axis": {"orient": "right", "values": [1.5, 2, 2.5], "labels": false, "tickSize": -6, "title": null}},
     "text": {"field": "t"}}},
   {"data": {"values": [{"t": "zeaxanthin"}]}, "mark": {"type": "text", "align": "right", "baseline": "middle", "fontSize": 25, "fontWeight": "bold", "color": "#f01414"},
    "encoding": {
     "x": {"datum": 10.56, "scale": {"domain": [-1, 11], "nice": false, "zero": false}, "axis": null},
     "y": {"datum": 2.64, "scale": {"domain": [1, 3], "nice": false, "zero": false}, "axis": null},
     "text": {"field": "t"}}}
  ],
  "resolve": {"axis": {"x": "independent", "y": "independent"}}
 }
], "spacing": 198, "bounds": "flush"}
],
"spacing": 241,
"bounds": "flush",
"config": {
 "font": "Lato, 'Open Sans', sans-serif",
 "background": "white",
 "view": {"stroke": "#000", "strokeWidth": 2},
 "axis": {"domain": false, "grid": false, "tickColor": "#000", "tickWidth": 1.5, "labelColor": "#000", "labelFontWeight": "bold", "labelFlush": false, "labelOverlap": false, "titleColor": "#000", "titleFontWeight": "bold", "labelFont": "Lato, 'Open Sans', sans-serif", "titleFont": "Lato, 'Open Sans', sans-serif"},
 "title": {"font": "Lato, 'Open Sans', sans-serif", "fontWeight": "bold", "color": "#000"},
 "text": {"font": "Lato, 'Open Sans', sans-serif"}
}
}
